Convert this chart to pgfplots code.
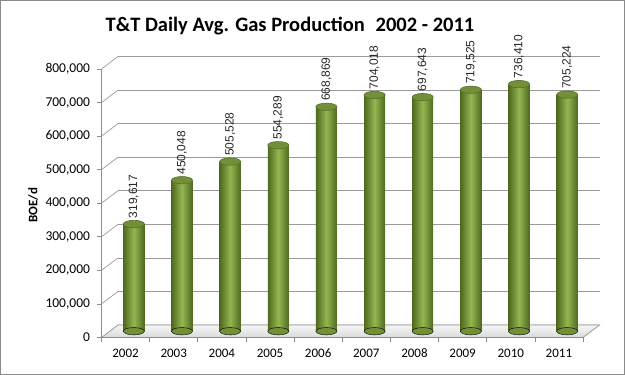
\documentclass[border=0pt]{standalone}
\usepackage{pgfplots}
\usepackage{pgfplotstable}
\pgfplotsset{compat=1.18}
\usepackage{fontspec}
\setmainfont{Carlito}
\newfontfamily\arialf{Liberation Sans}
\definecolor{barDark}{HTML}{4E6A20}
\definecolor{barLight}{HTML}{94B650}
\definecolor{barTop}{HTML}{738F38}
\definecolor{barTopEdge}{HTML}{55722A}
\definecolor{gridc}{HTML}{9A9A9A}
\definecolor{axisc}{HTML}{8C8C8C}
\definecolor{borderc}{HTML}{8A8A8A}
\pgfplotsset{
  myaxis/.style={scale only axis, width=481.5pt, height=268.5pt,
    xmin=0, xmax=10, ymin=0, ymax=800000, clip=false, anchor=south west, scaled y ticks=false},
  cyl/.style={ybar, bar width=21pt, bar shift=0pt, draw=none, left color=barDark, right color=barDark, middle color=barLight, forget plot},
}
\pgfplotstableread{
x y z
0.5 319617 0
1.5 450048 0
2.5 505528 0
3.5 554289 0
4.5 668869 0
5.5 704018 0
6.5 697643 0
7.5 719525 0
8.5 736410 0
9.5 705224 0
}\prodtable
\begin{document}
\begin{tikzpicture}[x=1pt,y=1pt]
\useasboundingbox (0,0) rectangle (625,375);
\draw[draw=borderc, line width=1.2pt] (0.6,0.6) rectangle (624.4,374.4);
\node[font=\fontsize{20.5}{24}\selectfont\bfseries, anchor=base] at (290,343) {T\&T Daily Avg. Gas Production\hspace{0.3em} 2002 - 2011};
\node[rotate=90, font=\fontsize{13}{15}\selectfont\bfseries] at (33,170) {BOE/d};
% back wall gridlines and floor
\begin{axis}[myaxis, at={(118pt,50pt)},
  axis line style={draw=none}, xtick=\empty,
  ytick={100000,200000,300000,400000,500000,600000,700000,800000},
  yticklabels={}, major tick length=0pt, ymajorgrids,
  grid style={gridc, line width=0.7pt}]
  \fill[top color=gray!8, bottom color=gray!28] (axis cs:0,0) -- (axis cs:10,0) -- ++(-16.5pt,-12.5pt) -- ++(-481.5pt,0pt) -- cycle;
  \draw[gridc, line width=0.7pt] (axis cs:0,0) -- (axis cs:10,0) -- ++(-16.5pt,-12.5pt);
\end{axis}
% bars
\begin{axis}[myaxis, at={(109.75pt,43.75pt)}, hide axis]
  \addplot[only marks, mark=*, mark size=10.5pt, mark options={yscale=0.35, fill=barTop, draw=none}] table[x=x, y=z] {\prodtable};
  \addplot[cyl] coordinates {(0.5,319617)};
  \addplot[cyl] coordinates {(1.5,450048)};
  \addplot[cyl] coordinates {(2.5,505528)};
  \addplot[cyl] coordinates {(3.5,554289)};
  \addplot[cyl] coordinates {(4.5,668869)};
  \addplot[cyl] coordinates {(5.5,704018)};
  \addplot[cyl] coordinates {(6.5,697643)};
  \addplot[cyl] coordinates {(7.5,719525)};
  \addplot[cyl] coordinates {(8.5,736410)};
  \addplot[cyl] coordinates {(9.5,705224)};
  \addplot[only marks, mark=*, mark size=10.5pt, mark options={yscale=0.35, fill=barTop, draw=barTopEdge, line width=0.6pt},
    nodes near coords={\pgfmathprintnumber[fixed,precision=0,1000 sep={,},assume math mode=true]{\pgfplotspointmeta}}, point meta=y,
    every node near coord/.append style={rotate=90, anchor=west, inner sep=0pt, inner xsep=6.5pt,
      font=\arialf\fontsize{12}{14}\selectfont, text=black!85, xshift=-1pt}]
    table[x=x,y=y] {\prodtable};
\end{axis}
% front axis
\begin{axis}[myaxis, at={(101.5pt,37.5pt)},
  axis lines*=left, axis line style={axisc, line width=0.7pt},
  tick align=outside,
  xtick={0.5,1.5,2.5,3.5,4.5,5.5,6.5,7.5,8.5,9.5},
  xticklabels={2002,2003,2004,2005,2006,2007,2008,2009,2010,2011},
  minor xtick={0,1,2,3,4,5,6,7,8,9,10},
  major x tick style={draw=none},
  minor x tick style={axisc, line width=0.7pt},
  minor tick length=5pt, major tick length=5pt,
  ytick={0,100000,200000,300000,400000,500000,600000,700000,800000},
  y tick style={axisc, line width=0.7pt},
  /pgf/number format/assume math mode=true,
  yticklabel style={font=\fontsize{13.5}{15}\selectfont, /pgf/number format/fixed, /pgf/number format/1000 sep={,}, xshift=-3pt},
  xticklabel style={font=\fontsize{13}{15}\selectfont, yshift=-3pt},
]
  \pgfplotsinvokeforeach{100000,200000,300000,400000,500000,600000,700000,800000}{
    \draw[gridc, line width=0.7pt] (axis cs:0,#1) -- ++(16.5pt,12.5pt);
  }
  \draw[gridc, line width=0.7pt] (axis cs:0,0) -- ++(16.5pt,12.5pt);
\end{axis}
\end{tikzpicture}
\end{document}
